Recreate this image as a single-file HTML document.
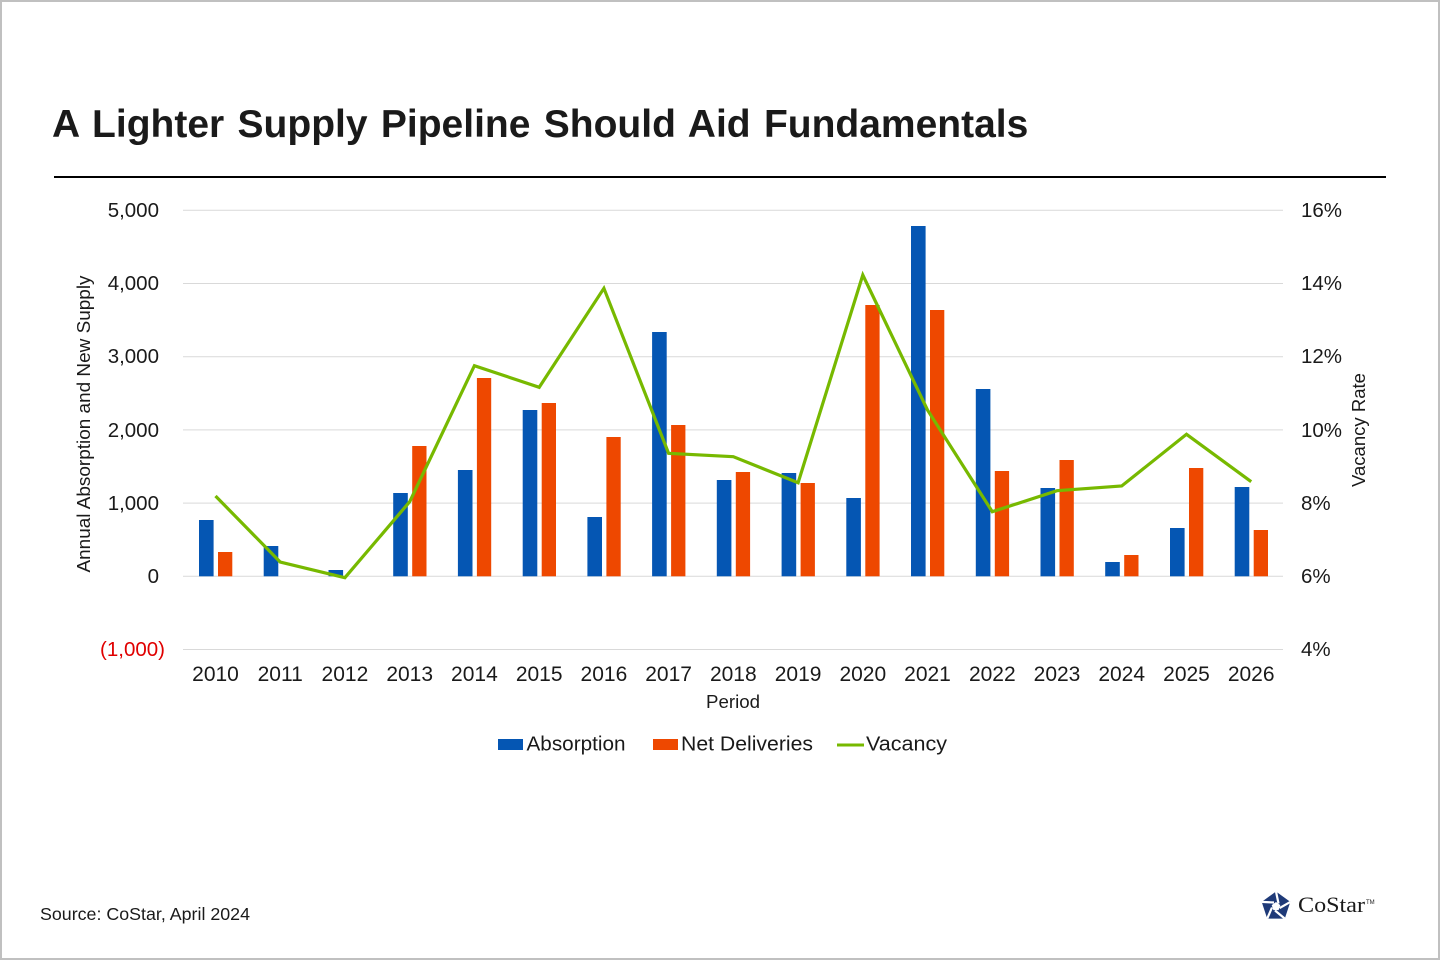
<!DOCTYPE html>
<html>
<head>
<meta charset="utf-8">
<style>
  html, body { margin:0; padding:0; background:#fff; }
  body { width:1440px; height:960px; overflow:hidden; }
  svg { display:block; }
  text { font-family: "Liberation Sans", Arial, sans-serif; fill:#1a1a1a; }
</style>
</head>
<body>
<svg width="1440" height="960" viewBox="0 0 1440 960" xmlns="http://www.w3.org/2000/svg">
  <rect x="1" y="1" width="1438" height="958" fill="#fff" stroke="#c0c0c0" stroke-width="2"/>

  <!-- Title -->
  <text x="52" y="137" font-size="39" font-weight="bold" fill="#000" style="word-spacing:2.5px">A Lighter Supply Pipeline Should Aid Fundamentals</text>
  <line x1="54" y1="177" x2="1386" y2="177" stroke="#000" stroke-width="2"/>

  <!-- Gridlines -->
  <g stroke="#d9d9d9" stroke-width="1">
    <line x1="183" y1="210.3" x2="1283" y2="210.3"/>
    <line x1="183" y1="283.5" x2="1283" y2="283.5"/>
    <line x1="183" y1="356.7" x2="1283" y2="356.7"/>
    <line x1="183" y1="429.9" x2="1283" y2="429.9"/>
    <line x1="183" y1="503.1" x2="1283" y2="503.1"/>
    <line x1="183" y1="576.3" x2="1283" y2="576.3"/>
    <line x1="183" y1="649.5" x2="1283" y2="649.5"/>
  </g>

  <!-- Left tick labels -->
  <g font-size="20.5" text-anchor="end">
    <text x="159" y="217">5,000</text>
    <text x="159" y="290">4,000</text>
    <text x="159" y="363">3,000</text>
    <text x="159" y="437">2,000</text>
    <text x="159" y="510">1,000</text>
    <text x="159" y="583">0</text>
    <text x="165" y="656" fill="#e00000" style="fill:#e00000">(1,000)</text>
  </g>

  <!-- Right tick labels -->
  <g font-size="20.5" text-anchor="start">
    <text x="1301" y="217">16%</text>
    <text x="1301" y="290">14%</text>
    <text x="1301" y="363">12%</text>
    <text x="1301" y="437">10%</text>
    <text x="1301" y="510">8%</text>
    <text x="1301" y="583">6%</text>
    <text x="1301" y="656">4%</text>
  </g>

  <!-- Axis titles -->
  <text transform="translate(90,424) rotate(-90)" font-size="18.5" text-anchor="middle" textLength="297" lengthAdjust="spacingAndGlyphs">Annual Absorption and New Supply</text>
  <text transform="translate(1365,430) rotate(-90)" font-size="18.5" text-anchor="middle" textLength="114" lengthAdjust="spacingAndGlyphs">Vacancy Rate</text>

  <!-- Bars: Absorption -->
  <g fill="#0556b3">
    <rect x="199.0" y="520" width="14.6" height="56.3"/>
    <rect x="263.7" y="546" width="14.6" height="30.3"/>
    <rect x="328.5" y="570" width="14.6" height="6.3"/>
    <rect x="393.2" y="493" width="14.6" height="83.3"/>
    <rect x="457.9" y="470" width="14.6" height="106.3"/>
    <rect x="522.7" y="410" width="14.6" height="166.3"/>
    <rect x="587.4" y="517" width="14.6" height="59.3"/>
    <rect x="652.1" y="332" width="14.6" height="244.3"/>
    <rect x="716.8" y="480" width="14.6" height="96.3"/>
    <rect x="781.6" y="473" width="14.6" height="103.3"/>
    <rect x="846.3" y="498" width="14.6" height="78.3"/>
    <rect x="911.0" y="226" width="14.6" height="350.3"/>
    <rect x="975.8" y="389" width="14.6" height="187.3"/>
    <rect x="1040.5" y="488" width="14.6" height="88.3"/>
    <rect x="1105.2" y="562" width="14.6" height="14.3"/>
    <rect x="1170.0" y="528" width="14.6" height="48.3"/>
    <rect x="1234.7" y="487" width="14.6" height="89.3"/>
  </g>

  <!-- Bars: Net Deliveries -->
  <g fill="#ee4800">
    <rect x="218.0" y="552" width="14.3" height="24.3"/>
    <rect x="412.2" y="446" width="14.3" height="130.3"/>
    <rect x="476.9" y="378" width="14.3" height="198.3"/>
    <rect x="541.7" y="403" width="14.3" height="173.3"/>
    <rect x="606.4" y="437" width="14.3" height="139.3"/>
    <rect x="671.1" y="425" width="14.3" height="151.3"/>
    <rect x="735.8" y="472" width="14.3" height="104.3"/>
    <rect x="800.6" y="483" width="14.3" height="93.3"/>
    <rect x="865.3" y="305" width="14.3" height="271.3"/>
    <rect x="930.0" y="310" width="14.3" height="266.3"/>
    <rect x="994.8" y="471" width="14.3" height="105.3"/>
    <rect x="1059.5" y="460" width="14.3" height="116.3"/>
    <rect x="1124.2" y="555" width="14.3" height="21.3"/>
    <rect x="1189.0" y="468" width="14.3" height="108.3"/>
    <rect x="1253.7" y="530" width="14.3" height="46.3"/>
  </g>

  <!-- Vacancy line -->
  <polyline fill="none" stroke="#77b900" stroke-width="3.2" stroke-linejoin="miter"
    points="215.5,496 280.2,562 344.9,577.7 409.7,501.7 474.4,365.7 539.2,387.3 603.9,288.3 668.6,453.3 733.3,456.7 798.1,482.7 862.8,275 927.5,410 992.3,511.7 1057,490.7 1121.7,486 1186.5,434.3 1251.2,481.7"/>

  <!-- X labels -->
  <g font-size="21" text-anchor="middle">
    <text x="215.5" y="681">2010</text>
    <text x="280.2" y="681">2011</text>
    <text x="344.9" y="681">2012</text>
    <text x="409.7" y="681">2013</text>
    <text x="474.4" y="681">2014</text>
    <text x="539.2" y="681">2015</text>
    <text x="603.9" y="681">2016</text>
    <text x="668.6" y="681">2017</text>
    <text x="733.3" y="681">2018</text>
    <text x="798.1" y="681">2019</text>
    <text x="862.8" y="681">2020</text>
    <text x="927.5" y="681">2021</text>
    <text x="992.3" y="681">2022</text>
    <text x="1057" y="681">2023</text>
    <text x="1121.7" y="681">2024</text>
    <text x="1186.5" y="681">2025</text>
    <text x="1251.2" y="681">2026</text>
  </g>
  <text x="733" y="708" font-size="18.7" text-anchor="middle">Period</text>

  <!-- Legend -->
  <rect x="498" y="739" width="25" height="11" fill="#0556b3"/>
  <text x="526.5" y="750.5" font-size="20.5" textLength="99" lengthAdjust="spacingAndGlyphs">Absorption</text>
  <rect x="653" y="739" width="25" height="11" fill="#ee4800"/>
  <text x="681" y="750.5" font-size="20.5" textLength="132" lengthAdjust="spacingAndGlyphs">Net Deliveries</text>
  <line x1="837" y1="745" x2="864" y2="745" stroke="#77b900" stroke-width="3"/>
  <text x="866" y="750.5" font-size="20.5" textLength="81" lengthAdjust="spacingAndGlyphs">Vacancy</text>

  <!-- Source -->
  <text x="40" y="920" font-size="17.5" textLength="210" lengthAdjust="spacingAndGlyphs">Source: CoStar, April 2024</text>

  <!-- CoStar logo -->
  <g transform="translate(1276,906.5)">
    <polygon points="0,-15 14.3,-4.6 8.8,12.1 -8.8,12.1 -14.3,-4.6" fill="#1f3a78"/>
    <g stroke="#fff" stroke-width="2.2">
      <line x1="0" y1="-15" x2="2.5" y2="-3"/>
      <line x1="14.3" y1="-4.6" x2="3.6" y2="1.6"/>
      <line x1="8.8" y1="12.1" x2="-1" y2="4"/>
      <line x1="-8.8" y1="12.1" x2="-4" y2="1"/>
      <line x1="-14.3" y1="-4.6" x2="-2" y2="-4"/>
    </g>
    <polygon points="0,-4.5 4.3,-1.4 2.6,3.6 -2.6,3.6 -4.3,-1.4" fill="#fff"/>
  </g>
  <text x="1298" y="912" font-size="22" textLength="67" lengthAdjust="spacingAndGlyphs" style="font-family:'Liberation Serif',serif" fill="#222">CoStar</text>
  <text x="1366" y="904" font-size="6" fill="#444">TM</text>
</svg>
</body>
</html>
